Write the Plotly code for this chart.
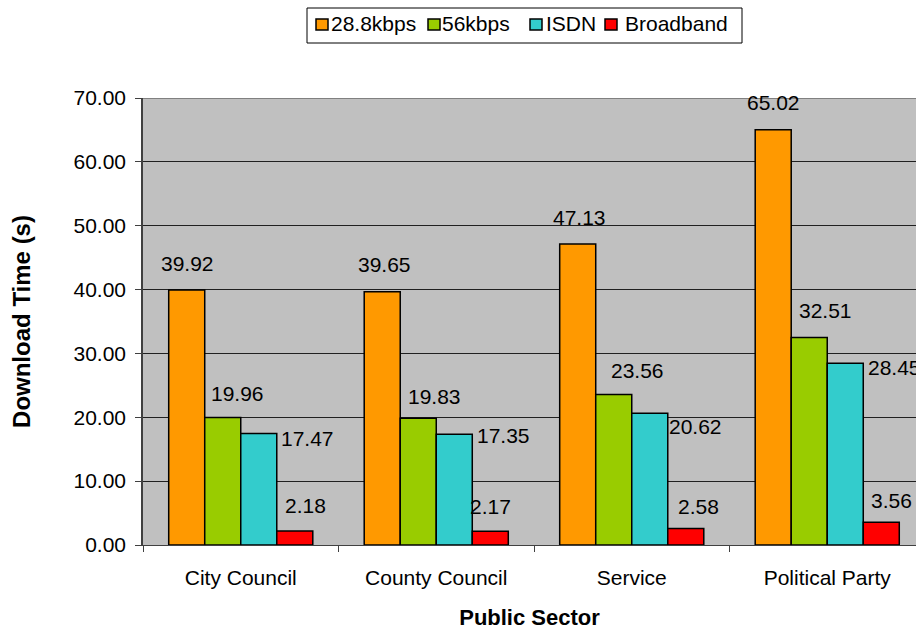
import plotly.graph_objects as go

# Average page download time per public-sector site type, by connection speed
sectors = ["City Council", "County Council", "Service", "Political Party"]
series_names = ["28.8kbps", "56kbps", "ISDN", "Broadband"]
kbps_28_8 = [39.92, 39.65, 47.13, 65.02]
kbps_56 = [19.96, 19.83, 23.56, 32.51]
isdn = [17.47, 17.35, 20.62, 28.45]
broadband = [2.18, 2.17, 2.58, 3.56]

series_values = [kbps_28_8, kbps_56, isdn, broadband]
colors = ["#FF9900", "#99CC00", "#33CCCC", "#FF0000"]

# Value-label nudges in pixels (right, down) measured from the top centre of each bar
label_nudges = [
    [(1, -27), (2, -27), (2, -27), (0, -27)],
    [(15, -24), (16, -22), (24, -24), (16, -27)],
    [(49, 5), (49, 1), (46, 13), (49, 4)],
    [(11, -26), (0, -25), (13, -22), (10, -22)],
]

FONT = "Liberation Sans, Arial, sans-serif"
W, H = 916, 631
M_L, M_R, M_T, M_B = 143, 0, 98, 86
BAR_GAP = 0.263
n_series = len(series_values)
bar_w = (1 - BAR_GAP) / n_series


def px_x(px):
    return (px - M_L) / (W - M_L - M_R)


def px_y(py):
    return (H - M_B - py) / (H - M_T - M_B)


fig = go.Figure()
for name, vals, col in zip(series_names, series_values, colors):
    fig.add_trace(go.Bar(
        name=name, x=sectors, y=vals, showlegend=False,
        marker=dict(color=col, line=dict(color="black", width=1.5)),
    ))

annotations = []
for j, vals in enumerate(series_values):
    for i, v in enumerate(vals):
        dx, dy = label_nudges[j][i]
        annotations.append(dict(
            x=i + (j - (n_series - 1) / 2) * bar_w, y=v, xref="x", yref="y",
            text=f"{v:.2f}", showarrow=False, xanchor="center", yanchor="middle",
            xshift=dx, yshift=-dy, font=dict(family=FONT, size=21, color="black"),
        ))

# Boxed key across the top: swatch left edge and label left edge per series (px)
key_box = (307, 8, 742, 43)
key_swatch_left = [316, 428, 530, 605]
key_text_left = [329, 440, 544, 623]
key_mid_y = 24

shapes = [
    dict(type="rect", xref="paper", yref="paper",
         x0=px_x(key_box[0]), x1=px_x(key_box[2]),
         y0=px_y(key_box[3]), y1=px_y(key_box[1]),
         fillcolor="white", line=dict(color="black", width=1), layer="above"),
    dict(type="line", xref="paper", yref="y", x0=0, x1=1, y0=70, y1=70,
         line=dict(color="#808080", width=2), layer="above"),
]
for name, col, sx, tx in zip(series_names, colors, key_swatch_left, key_text_left):
    shapes.append(dict(
        type="rect", xref="paper", yref="paper",
        x0=px_x(sx), x1=px_x(sx + 12), y0=px_y(key_mid_y + 6), y1=px_y(key_mid_y - 5),
        fillcolor=col, line=dict(color="black", width=1.5), layer="above",
    ))
    annotations.append(dict(
        x=px_x(tx), y=px_y(key_mid_y), xref="paper", yref="paper",
        text=name, showarrow=False, xanchor="left", yanchor="middle",
        font=dict(family=FONT, size=21, color="black"),
    ))

fig.update_layout(
    width=W, height=H,
    margin=dict(l=M_L, r=M_R, t=M_T, b=M_B),
    paper_bgcolor="white", plot_bgcolor="#C0C0C0",
    barmode="group", bargap=BAR_GAP, bargroupgap=0,
    font=dict(family=FONT, size=21, color="black"),
    annotations=annotations,
    shapes=shapes,
    showlegend=False,
)

fig.update_xaxes(
    type="category", range=[-0.5, 3.454],
    showline=True, linecolor="#404040", linewidth=1,
    ticks="outside", tickson="boundaries", ticklen=6, tickcolor="#404040",
    showgrid=False, ticklabelstandoff=14,
    tickfont=dict(family=FONT, size=21, color="black"),
    title=dict(text="<b>Public Sector</b>", standoff=21,
               font=dict(family=FONT, size=22, color="black")),
    automargin=False,
)
fig.update_yaxes(
    range=[0, 70], dtick=10, tickformat=".2f",
    showline=True, linecolor="#404040", linewidth=1.5,
    ticks="outside", ticklen=6, tickcolor="#404040",
    showgrid=True, gridcolor="#202020", gridwidth=1, zeroline=False,
    ticklabelstandoff=5,
    tickfont=dict(family=FONT, size=21, color="black"),
    title=dict(text="<b>Download Time (s)</b>", standoff=36,
               font=dict(family=FONT, size=24, color="black")),
    automargin=False,
)

fig.write_html("out.html")
